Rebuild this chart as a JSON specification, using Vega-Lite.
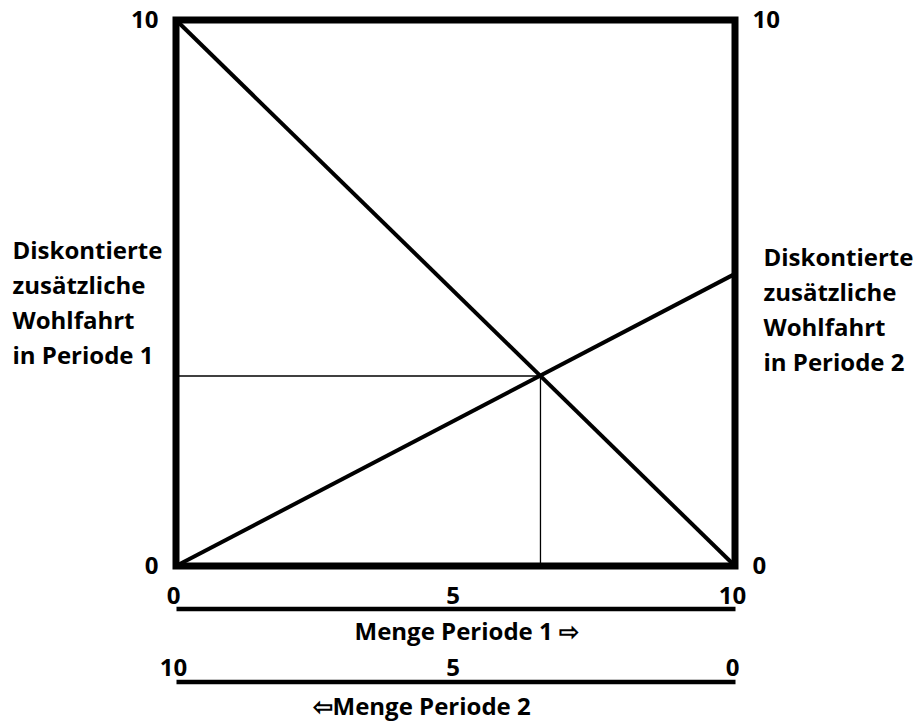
{
  "$schema": "https://vega.github.io/schema/vega-lite/v6.json",
  "width": 559,
  "height": 546,
  "autosize": "none",
  "padding": {"left": 176, "top": 20, "right": 183, "bottom": 156},
  "background": "white",
  "config": {
    "font": "Open Sans",
    "view": {"stroke": "black", "strokeWidth": 7},
    "axis": {
      "grid": false,
      "ticks": false,
      "tickSize": 0,
      "labelFont": "Open Sans",
      "labelFontSize": 24,
      "labelFontWeight": "bold",
      "labelColor": "black",
      "labelFlush": false,
      "labelOverlap": false,
      "titleFont": "Open Sans",
      "titleFontSize": 24,
      "titleFontWeight": "bold",
      "titleColor": "black"
    }
  },
  "datasets": {
    "periode1": [
      {"menge1": 0, "wohlfahrt1": 10},
      {"menge1": 10, "wohlfahrt1": 0}
    ],
    "periode2": [
      {"menge2": 10, "wohlfahrt2": 0},
      {"menge2": 0, "wohlfahrt2": 5.35}
    ],
    "hilfslinien": [
      {"xa": 0, "xb": 6.52, "ya": 3.48, "yb": 3.48},
      {"xa": 6.52, "xb": 6.52, "ya": 0, "yb": 3.48}
    ]
  },
  "layer": [
    {
      "layer": [
        {
          "data": {"name": "hilfslinien"},
          "mark": {"type": "rule", "color": "black", "strokeWidth": 1.3},
          "encoding": {
            "x": {"field": "xa", "type": "quantitative"},
            "x2": {"field": "xb"},
            "y": {"field": "ya", "type": "quantitative"},
            "y2": {"field": "yb"}
          }
        },
        {
          "data": {"name": "periode1"},
          "mark": {"type": "line", "color": "black", "strokeWidth": 4},
          "encoding": {
            "x": {
              "field": "menge1",
              "type": "quantitative",
              "scale": {"domain": [0, 10], "nice": false},
              "axis": {
                "orient": "bottom",
                "offset": 42.5,
                "values": [0, 5, 10],
                "domain": true,
                "domainColor": "black",
                "domainWidth": 4.5,
                "labelBaseline": "alphabetic",
                "labelPadding": -5.5,
                "labelOffset": -3,
                "title": "Menge Periode 1 ⇨",
                "titleAlign": "left",
                "titleAnchor": "start",
                "titleBaseline": "alphabetic",
                "titleX": 178,
                "titleY": 30.5
              }
            },
            "y": {
              "field": "wohlfahrt1",
              "type": "quantitative",
              "scale": {"domain": [0, 10], "nice": false},
              "axis": {
                "orient": "left",
                "values": [0, 10],
                "domain": false,
                "labelPadding": 18,
                "title": ["Diskontierte", "zusätzliche", "Wohlfahrt", "in Periode 1"],
                "titleAngle": 0,
                "titleAlign": "left",
                "titleBaseline": "alphabetic",
                "titleLineHeight": 35,
                "titleX": -164,
                "titleY": 238
              }
            }
          }
        }
      ]
    },
    {
      "data": {"name": "periode2"},
      "mark": {"type": "line", "color": "black", "strokeWidth": 4},
      "encoding": {
        "x": {
          "field": "menge2",
          "type": "quantitative",
          "scale": {"domain": [0, 10], "nice": false, "reverse": true},
          "axis": {
            "orient": "top",
            "offset": -661.5,
            "values": [0, 5, 10],
            "domain": true,
            "domainColor": "black",
            "domainWidth": 4.5,
            "labelBaseline": "alphabetic",
            "labelPadding": 6.5,
            "labelOffset": -3,
            "title": "⇦Menge Periode 2",
            "titleAlign": "left",
            "titleAnchor": "start",
            "titleBaseline": "alphabetic",
            "titleX": 136,
            "titleY": 32.5
          }
        },
        "y": {
          "field": "wohlfahrt2",
          "type": "quantitative",
          "scale": {"domain": [0, 10], "nice": false},
          "axis": {
            "orient": "right",
            "values": [0, 10],
            "domain": false,
            "labelPadding": 17,
            "title": ["Diskontierte", "zusätzliche", "Wohlfahrt", "in Periode 2"],
            "titleAngle": 0,
            "titleAlign": "left",
            "titleBaseline": "alphabetic",
            "titleLineHeight": 35,
            "titleX": 28,
            "titleY": 245
          }
        }
      }
    }
  ],
  "resolve": {"scale": {"x": "independent", "y": "independent"}}
}
